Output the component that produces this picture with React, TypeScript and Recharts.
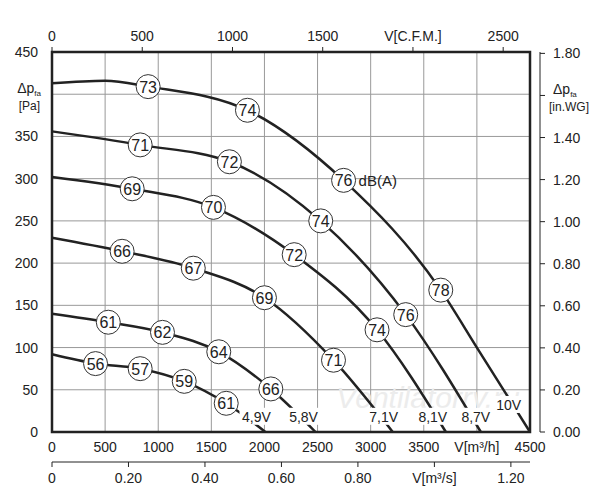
import React from "react";
import { LineChart, Line, XAxis, YAxis, CartesianGrid, ReferenceDot, ReferenceArea } from "recharts";

const v10x = [0, 500, 905, 1840, 2745, 3660, 4000, 4500];
const v10y = [413, 416, 409, 381, 298, 168, 100, 0];
const v87x = [0, 830, 1670, 2530, 3330, 4037];
const v87y = [356, 340, 320, 250, 139, 0];
const v81x = [0, 755, 1520, 2280, 3060, 3708];
const v81y = [302, 288, 266, 210, 121, 0];
const v71x = [0, 660, 1330, 2000, 2650, 3208];
const v71y = [230, 214, 194, 159, 85, 0];
const v58x = [0, 530, 1040, 1570, 2060, 2481];
const v58y = [140, 130, 118, 95, 51, 0];
const v49x = [0, 410, 830, 1245, 1640, 2009];
const v49y = [92, 81, 75, 60, 34, 0];

const dbLabels: [number, number, string][] = [
  [905, 409, "73"], [1840, 381, "74"], [2745, 298, "76"], [3660, 168, "78"],
  [830, 340, "71"], [1670, 320, "72"], [2530, 250, "74"], [3330, 139, "76"],
  [755, 288, "69"], [1520, 266, "70"], [2280, 210, "72"], [3060, 121, "74"],
  [660, 214, "66"], [1330, 194, "67"], [2000, 159, "69"], [2650, 85, "71"],
  [530, 130, "61"], [1040, 118, "62"], [1570, 95, "64"], [2060, 51, "66"],
  [410, 81, "56"], [830, 75, "57"], [1245, 60, "59"], [1640, 34, "61"],
];
const voltLabels: [number, number, string][] = [
  [1925, 18, "4,9V"], [2368, 18, "5,8V"], [3123, 18, "7,1V"], [3585, 18, "8,1V"], [3990, 18, "8,7V"], [4300, 32, "10V"],
];

const mTicks = [0, 500, 1000, 1500, 2000, 2500, 3000, 3500, 4000, 4500];
const paTicks = [0, 50, 100, 150, 200, 250, 300, 350, 400, 450];
const cfmTicks = [0, 500, 1000, 1500, 2000, 2500];
const m3sTicks = [0, 0.2, 0.4, 0.6, 0.8, 1.0, 1.2];
const wgTicks = [0, 0.2, 0.4, 0.6, 0.8, 1.0, 1.2, 1.4, 1.6, 1.8];
const cfmMax = 2648.6;
const m3sMax = 1.25;
const wgMax = 1.8066;

const curves = [
  [v10x, v10y], [v87x, v87y], [v81x, v81y], [v71x, v71y], [v58x, v58y], [v49x, v49y],
].map(([xs, ys]) => xs.map((x, i) => ({ x, y: ys[i] })));
const sSpan = [{ x: 0, y: 0 }, { x: m3sMax, y: wgMax }];
const cSpan = [{ x: 0, y: 0 }, { x: cfmMax, y: wgMax }];

const F = "Liberation Sans, Arial, sans-serif";
const C = "#222";

const LeftTick = (p: any) => {
  const { x, y, payload } = p;
  if (payload.value === 400)
    return (
      <g fill={C} fontFamily={F}>
        <text x={x - 3} y={y - 1} textAnchor="end" fontSize={14}>Δp<tspan fontSize={8} dy={3}>fa</tspan></text>
        <text x={x - 4} y={y + 16} textAnchor="end" fontSize={12}>[Pa]</text>
      </g>
    );
  return <text x={x - 6} y={y + 5} textAnchor="end" fontSize={14} fill={C} fontFamily={F}>{payload.value}</text>;
};
const RightTick = (p: any) => {
  const { x, y, payload } = p;
  if (Math.abs(payload.value - 1.6) < 1e-6)
    return (
      <g fill={C} fontFamily={F}>
        <text x={x + 6} y={y - 1} fontSize={14}>Δp<tspan fontSize={8} dy={3}>fa</tspan></text>
        <text x={x + 2} y={y + 16} fontSize={12}>[in.WG]</text>
      </g>
    );
  return <text x={x + 6} y={y + 5} fontSize={14} fill={C} fontFamily={F}>{payload.value.toFixed(2)}</text>;
};
const BottomTick = (p: any) => {
  const { x, y, payload } = p;
  const label = payload.value === 4000 ? "V[m³/h]" : String(payload.value);
  return <text x={x} y={y + 12} textAnchor="middle" fontSize={14} fill={C} fontFamily={F}>{label}</text>;
};
const M3sTick = (p: any) => {
  const { x, y, payload } = p;
  const v = payload.value;
  const label = Math.abs(v - 1) < 1e-6 ? "V[m³/s]" : v === 0 ? "0" : v.toFixed(2);
  return <text x={x} y={y + 14} textAnchor="middle" fontSize={14} fill={C} fontFamily={F}>{label}</text>;
};
const TopTick = (p: any) => {
  const { x, y, payload } = p;
  const label = payload.value === 2000 ? "V[C.F.M.]" : String(payload.value);
  return <text x={x} y={y - 4} textAnchor="middle" fontSize={14} fill={C} fontFamily={F}>{label}</text>;
};

const Bubble = (text: string, extra?: string) => (p: any) => (
  <g fontFamily={F}>
    <circle cx={p.cx} cy={p.cy} r={12} fill="#fff" stroke="#333" strokeWidth={1} />
    <text x={p.cx} y={p.cy + 6} textAnchor="middle" fontSize={16} fill={C}>{text}</text>
    {extra && <text x={p.cx + 15} y={p.cy + 6} fontSize={15} fill={C}>{extra}</text>}
  </g>
);
const Plain = (text: string) => (p: any) => (
  <g fontFamily={F}>
    <rect x={p.cx - 17} y={p.cy - 9} width={34} height={17} fill="#fff" />
    <text x={p.cx} y={p.cy + 5} textAnchor="middle" fontSize={14} fill={C}>{text}</text>
  </g>
);

export default function App() {
  return (
    <LineChart width={600} height={500} margin={{ top: 0, right: 0, bottom: 0, left: 0 }}>
      <CartesianGrid xAxisId="m" yAxisId="pa" stroke="#999" strokeWidth={1} />
      <XAxis xAxisId="m" dataKey="x" type="number" domain={[0, 4500]} ticks={mTicks} orientation="bottom" height={30} axisLine={false} tickLine={false} tick={BottomTick} allowDuplicatedCategory={false} />
      <XAxis xAxisId="s" dataKey="x" type="number" domain={[0, m3sMax]} ticks={m3sTicks} orientation="bottom" height={46} axisLine={{ stroke: C }} tickLine={{ stroke: C }} tickSize={5} tick={M3sTick} allowDuplicatedCategory={false} />
      <XAxis xAxisId="d1" type="number" domain={[0, 1]} orientation="top" height={10} axisLine={false} tickLine={false} tick={false} />
      <XAxis xAxisId="cfm" dataKey="x" type="number" domain={[0, cfmMax]} ticks={cfmTicks} orientation="top" height={34} axisLine={{ stroke: C }} tickLine={{ stroke: C }} tickSize={5} tick={TopTick} allowDuplicatedCategory={false} />
      <YAxis yAxisId="pa" type="number" domain={[0, 450]} ticks={paTicks} width={44} axisLine={false} tickLine={false} tick={LeftTick} />
      <YAxis yAxisId="d2" orientation="right" type="number" domain={[0, 1]} width={10} axisLine={false} tickLine={false} tick={false} />
      <YAxis yAxisId="wg" orientation="right" type="number" domain={[0, wgMax]} ticks={wgTicks} width={68} axisLine={{ stroke: C }} tickLine={{ stroke: C }} tickSize={5} tick={RightTick} />
      <ReferenceArea xAxisId="m" yAxisId="pa" x1={0} x2={4500} y1={0} y2={450} fill="none" stroke={C} strokeWidth={2.5} />
      <Line xAxisId="s" yAxisId="wg" data={sSpan} dataKey="y" stroke="none" dot={false} isAnimationActive={false} />
      <Line xAxisId="cfm" yAxisId="wg" data={cSpan} dataKey="y" stroke="none" dot={false} isAnimationActive={false} />
      {curves.map((d, i) => (
        <Line key={i} xAxisId="m" yAxisId="pa" data={d} dataKey="y" type="monotone" stroke={C} strokeWidth={2.5} dot={false} isAnimationActive={false} />
      ))}
      {dbLabels.map(([x, y, t], i) => (
        <ReferenceDot key={"d" + i} xAxisId="m" yAxisId="pa" x={x} y={y} r={12} shape={Bubble(t, i === 2 ? "dB(A)" : undefined)} />
      ))}
      {voltLabels.map(([x, y, t], i) => (
        <ReferenceDot key={"v" + i} xAxisId="m" yAxisId="pa" x={x} y={y} r={1} shape={Plain(t)} />
      ))}
      <text x={420} y={400} textAnchor="middle" fontSize={30} fontStyle="italic" fill="#ececec" fontFamily={F}>Ventilatorry.ru</text>
    </LineChart>
  );
}
